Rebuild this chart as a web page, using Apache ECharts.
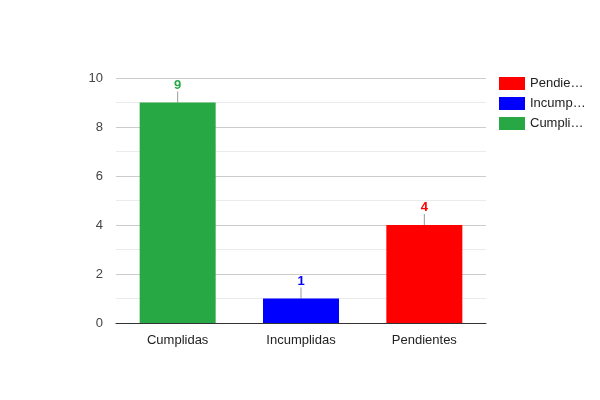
<!DOCTYPE html>
<html><head><meta charset="utf-8">
<script src="https://cdn.jsdelivr.net/npm/echarts@6/dist/echarts.min.js"></script>
<style>html,body{margin:0;padding:0;background:#fff}#c{width:600px;height:400px}</style>
</head><body><div id="c"></div>
<script>
var categories = ['Cumplidas', 'Incumplidas', 'Pendientes'];
var values = [9, 1, 4];
var colors = ['#28a745', '#0000ff', '#ff0000'];
var legendOrder = ['Pendientes', 'Incumplidas', 'Cumplidas'];
var legendShort = {'Pendientes': 'Pendie…', 'Incumplidas': 'Incump…', 'Cumplidas': 'Cumpli…'};
var yTicks = [0, 2, 4, 6, 8, 10];

var series = categories.map(function (name, i) {
  return {
    name: name,
    type: 'bar',
    stack: 'all',
    barWidth: 76,
    itemStyle: { color: colors[i] },
    data: categories.map(function (c, j) { return j === i ? values[i] : '-'; }),
    label: {
      show: true, position: 'top', distance: 0,
      color: colors[i], fontWeight: 'bold', fontSize: 13,
      textBorderWidth: 0, textBorderColor: 'transparent',
      fontFamily: 'Liberation Sans, Arial, sans-serif'
    },
    labelLayout: { dy: -11 },
    labelLine: { show: true, lineStyle: { color: '#999', width: 1 } }
  };
});

var chart = echarts.init(document.getElementById('c'));
chart.setOption({
  animation: false,
  textStyle: { fontFamily: 'Liberation Sans, Arial, sans-serif' },
  grid: { left: 116, right: 114, top: 78, bottom: 77 },
  legend: {
    orient: 'vertical', left: 494, top: 72,
    itemWidth: 26, itemHeight: 13, itemGap: 7,
    icon: 'rect',
    data: legendOrder,
    formatter: function (n) { return legendShort[n]; },
    textStyle: { fontSize: 13, color: '#222' },
    selectedMode: false
  },
  xAxis: {
    type: 'category', data: categories,
    axisTick: { show: false },
    axisLine: { lineStyle: { color: '#333' } },
    axisLabel: { fontSize: 13, color: '#222', margin: 11 }
  },
  yAxis: {
    type: 'value', min: yTicks[0], max: yTicks[yTicks.length - 1], interval: 2,
    axisLine: { show: false }, axisTick: { show: false },
    axisLabel: { fontSize: 13, color: '#444', margin: 13 },
    splitLine: { lineStyle: { color: '#cccccc' } },
    minorTick: { show: false, splitNumber: 2 },
    minorSplitLine: { show: true, lineStyle: { color: '#ebebeb' } }
  },
  series: series
});
</script></body></html>
